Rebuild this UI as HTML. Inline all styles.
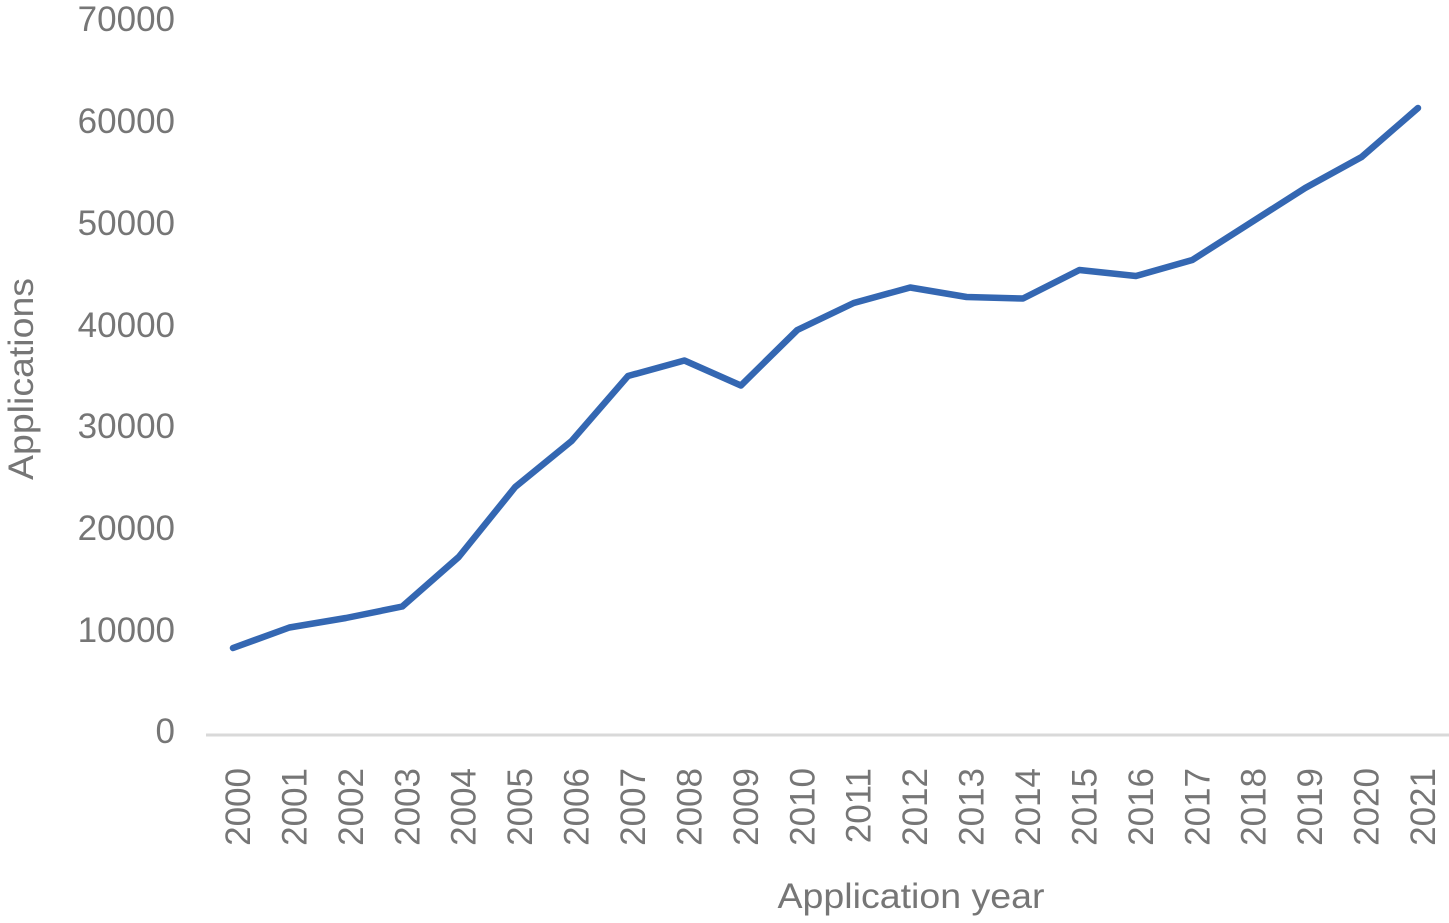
<!DOCTYPE html>
<html><head><meta charset="utf-8"><style>
html,body{margin:0;padding:0;background:#fff;}
svg{display:block;}
text{font-family:"Liberation Sans",sans-serif;fill:#767676;}
</style></head><body>
<svg width="1449" height="923" viewBox="0 0 1449 923" xmlns="http://www.w3.org/2000/svg">
<g font-size="35" text-anchor="end">
<text x="175" y="31">70000</text>
<text x="175" y="133">60000</text>
<text x="175" y="235">50000</text>
<text x="175" y="337">40000</text>
<text x="175" y="438">30000</text>
<text x="175" y="540">20000</text>
<text x="175" y="642">10000</text>
<text x="175" y="743">0</text>
</g>
<line x1="206" y1="735" x2="1449" y2="735" stroke="#d9d9d9" stroke-width="3"/>
<g font-size="35" text-anchor="end">
<text transform="translate(250,768) rotate(-90)">2000</text>
<text transform="translate(306.4,768) rotate(-90)">2001</text>
<text transform="translate(362.9,768) rotate(-90)">2002</text>
<text transform="translate(419.3,768) rotate(-90)">2003</text>
<text transform="translate(475.7,768) rotate(-90)">2004</text>
<text transform="translate(532.2,768) rotate(-90)">2005</text>
<text transform="translate(588.6,768) rotate(-90)">2006</text>
<text transform="translate(645,768) rotate(-90)">2007</text>
<text transform="translate(701.4,768) rotate(-90)">2008</text>
<text transform="translate(757.9,768) rotate(-90)">2009</text>
<text transform="translate(814.3,768) rotate(-90)">2010</text>
<text transform="translate(870.7,768) rotate(-90)">2011</text>
<text transform="translate(927.2,768) rotate(-90)">2012</text>
<text transform="translate(983.6,768) rotate(-90)">2013</text>
<text transform="translate(1040,768) rotate(-90)">2014</text>
<text transform="translate(1096.4,768) rotate(-90)">2015</text>
<text transform="translate(1152.9,768) rotate(-90)">2016</text>
<text transform="translate(1209.3,768) rotate(-90)">2017</text>
<text transform="translate(1265.7,768) rotate(-90)">2018</text>
<text transform="translate(1322.2,768) rotate(-90)">2019</text>
<text transform="translate(1378.6,768) rotate(-90)">2020</text>
<text transform="translate(1435,768) rotate(-90)">2021</text>
</g>
<text transform="translate(33,379) rotate(-90)" font-size="35" text-anchor="middle" textLength="202" lengthAdjust="spacingAndGlyphs">Applications</text>
<text x="911" y="908" font-size="35" text-anchor="middle" textLength="267" lengthAdjust="spacingAndGlyphs">Application year</text>
<polyline fill="none" stroke="#3467b2" stroke-width="6.5" stroke-linejoin="round" stroke-linecap="round"
points="233,648 289.4,627.5 345.9,618 402.3,606.5 458.7,557 515.2,487 571.6,441 628,376 684.4,360.5 740.9,385.5 797.3,330 853.7,303 910.2,287.5 966.6,297 1023,298.5 1079.4,270 1135.9,276 1192.3,260 1248.7,224 1305.2,188 1361.6,157 1418,108"/>
</svg>
</body></html>
